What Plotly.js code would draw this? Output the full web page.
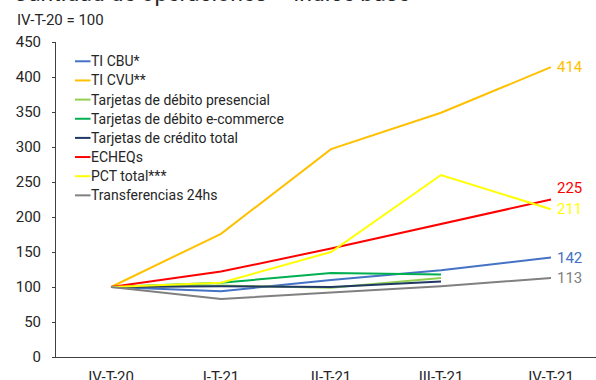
<!DOCTYPE html>
<html>
<head>
<meta charset="utf-8">
<script src="https://cdn.plot.ly/plotly-3.0.1.min.js"></script>
<style>
  html, body { margin: 0; padding: 0; background: #fff; }
  #chart { width: 596px; height: 380px; }
</style>
</head>
<body>
<div id="chart"></div>
<script>
// Quarters (IV-T-20 = 100)
const categories = ['IV-T-20', 'I-T-21', 'II-T-21', 'III-T-21', 'IV-T-21'];

// Index values per series
const tiCbu            = [100, 94, 110, 124, 142];
const tiCvu            = [100, 176, 297, 349, 414];
const debitoPresencial = [100, 102, 99, 113];
const debitoEcommerce  = [100, 106, 120, 118];
const creditoTotal     = [100, 101, 100, 108];
const echeqs           = [100, 122, 155, 190, 225];
const pctTotal         = [100, 106, 150, 260, 211];
const transferencias   = [100, 83, 92, 101, 113];

const seriesNames = [
  'TI CBU*', 'TI CVU**', 'Tarjetas de débito presencial', 'Tarjetas de débito e-commerce',
  'Tarjetas de crédito total', 'ECHEQs', 'PCT total***', 'Transferencias 24hs'
];
const seriesValues = [tiCbu, tiCvu, debitoPresencial, debitoEcommerce, creditoTotal, echeqs, pctTotal, transferencias];
const seriesColors = ['#4472C4', '#FFC000', '#92D050', '#00B050', '#1F3864', '#FF0000', '#FFFF00', '#808080'];

// Series that carry a value label at their last point, with a vertical nudge
const labelled = { 'TI CVU**': 0, 'ECHEQs': 12, 'PCT total***': 0, 'TI CBU*': 0, 'Transferencias 24hs': 0 };

const FONT = 'Roboto, "Liberation Sans", Arial, sans-serif';
const TEXT = '#262626';

// Plot area geometry (pixels)
const W = 596, H = 380;
const M = { l: 56, r: 0, t: 42, b: 23 };
const plotW = W - M.l - M.r, plotH = H - M.t - M.b;
const px = x => (x - M.l) / plotW;
const py = y => (H - M.b - y) / plotH;

const traces = seriesNames.map((name, i) => ({
  type: 'scatter',
  mode: 'lines',
  name: name,
  x: categories.slice(0, seriesValues[i].length),
  y: seriesValues[i],
  line: { color: seriesColors[i], width: 2 },
  showlegend: false,
  hoverinfo: 'x+y+name'
}));

const annotations = [];
const shapes = [];

// End-of-line value labels
seriesNames.forEach((name, i) => {
  if (!(name in labelled)) return;
  const vals = seriesValues[i];
  const last = vals.length - 1;
  annotations.push({
    x: categories[last], y: vals[last], xref: 'x', yref: 'y',
    text: String(vals[last]), showarrow: false,
    xanchor: 'left', yanchor: 'middle', xshift: 4, yshift: labelled[name],
    font: { family: FONT, size: 15, color: seriesColors[i] }
  });
});

// Legend block inside the plot
seriesNames.forEach((name, i) => {
  const yy = 61.3 + i * 19.15;
  shapes.push({
    type: 'line', xref: 'paper', yref: 'paper',
    x0: px(75), x1: px(90.5), y0: py(yy), y1: py(yy),
    line: { color: seriesColors[i], width: 2 }
  });
  annotations.push({
    x: px(89), y: py(yy), xref: 'paper', yref: 'paper',
    text: name, showarrow: false, xanchor: 'left', yanchor: 'middle',
    font: { family: FONT, size: 14, color: TEXT }
  });
});

// Heading and base note
annotations.push({
  x: px(11), y: py(9), xref: 'paper', yref: 'paper',
  text: 'Cantidad de operaciones – índice base', showarrow: false,
  xanchor: 'left', yanchor: 'bottom',
  font: { family: FONT, size: 23, color: TEXT }
});
annotations.push({
  x: px(15), y: py(20), xref: 'paper', yref: 'paper',
  text: 'IV-T-20 = 100', showarrow: false,
  xanchor: 'left', yanchor: 'middle',
  font: { family: FONT, size: 15, color: TEXT }
});

const layout = {
  width: W, height: H,
  margin: M,
  paper_bgcolor: '#fff', plot_bgcolor: '#fff',
  showlegend: false,
  font: { family: FONT, size: 15, color: TEXT },
  xaxis: {
    type: 'category',
    categoryorder: 'array', categoryarray: categories,
    range: [-0.5, -0.5 + plotW / 110],
    showline: true, linecolor: '#404040', linewidth: 1,
    ticks: '', showgrid: false, zeroline: false,
    ticklabelstandoff: 6,
    tickfont: { family: FONT, size: 15, color: TEXT }
  },
  yaxis: {
    range: [0, 450], dtick: 50, tick0: 0,
    showline: true, linecolor: '#404040', linewidth: 1,
    ticks: 'outside', ticklen: 3, tickcolor: '#404040',
    showgrid: false, zeroline: false,
    ticklabelstandoff: 8,
    tickfont: { family: FONT, size: 15, color: TEXT }
  },
  annotations: annotations,
  shapes: shapes
};

Plotly.newPlot('chart', traces, layout, { displayModeBar: false, staticPlot: true });
</script>
</body>
</html>
